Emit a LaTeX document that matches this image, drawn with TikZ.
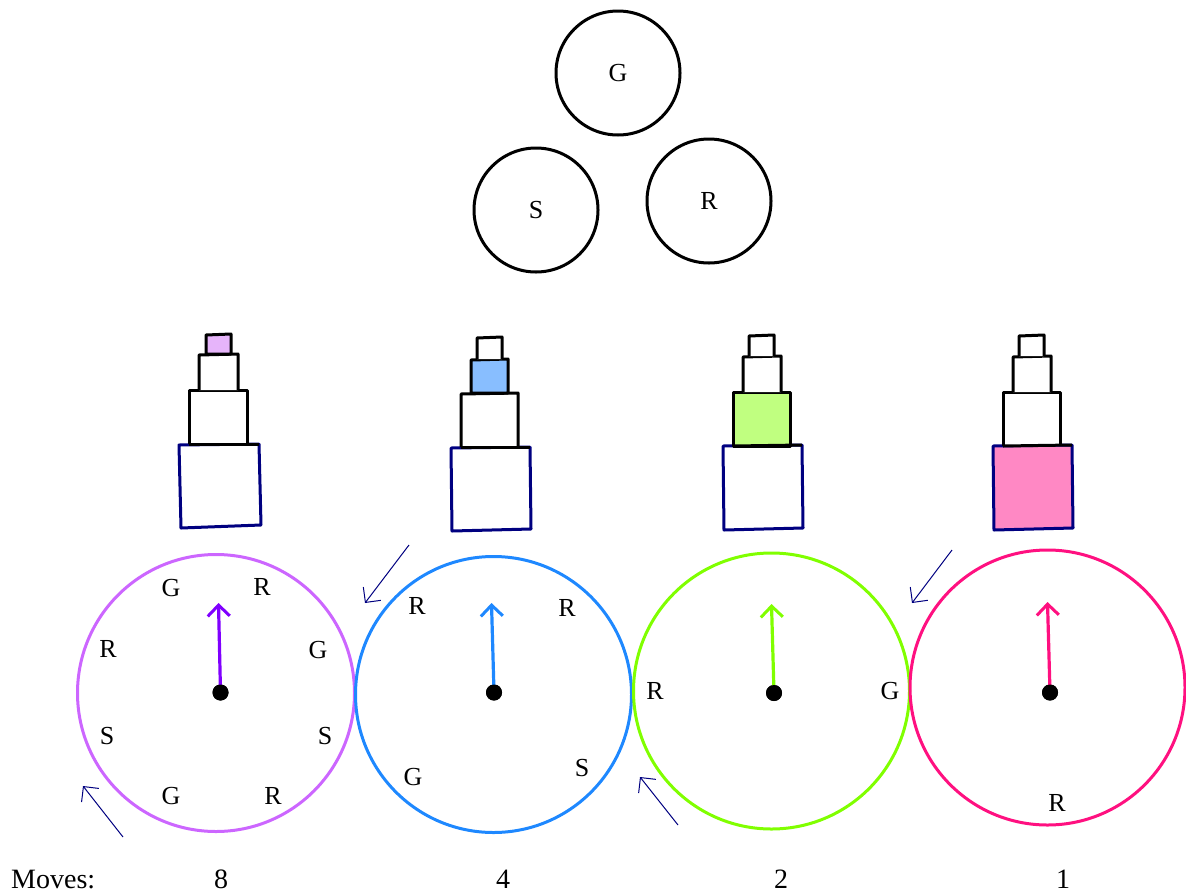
\documentclass[tikz,border=0pt]{standalone}
\usepackage{fontspec}
\setmainfont{Liberation Serif}
\usetikzlibrary{arrows.meta}

\definecolor{navy}{RGB}{0,0,128}
\definecolor{lilacring}{RGB}{204,102,255}
\definecolor{lilacfill}{RGB}{230,180,250}
\definecolor{violethand}{RGB}{128,0,255}
\definecolor{bluering}{RGB}{30,136,255}
\definecolor{bluefill}{RGB}{136,190,255}
\definecolor{greenring}{RGB}{128,255,0}
\definecolor{greenfill}{RGB}{192,255,128}
\definecolor{pinkring}{RGB}{255,16,128}
\definecolor{pinkfill}{RGB}{255,136,196}

\tikzset{
  lbl/.style={font=\fontsize{26}{30}\selectfont, inner sep=0pt},
  count/.style={font=\fontsize{28}{32}\selectfont, inner sep=0pt, anchor=base},
  topring/.style={circle, draw=black, line width=3pt, minimum size=124pt, inner sep=0pt, lbl},
  dial/.style={line width=3pt},
  hand/.style={line width=3.2pt, -{Straight Barb[length=11pt,width=22pt,line width=3pt]}},
  hub/.style={circle, fill=black, minimum size=16pt, inner sep=0pt},
  turn/.style={navy, line width=1pt, -{Straight Barb[length=11pt,width=22pt,line width=1pt]}},
  disc/.style={draw=black, line width=3pt, line join=round},
  base/.style={draw=navy, line width=3pt, line join=round},
}

\begin{document}
\begin{tikzpicture}[x=1pt,y=-1pt]
\useasboundingbox (0,0) rectangle (1186,892);

% three pegs
\node[topring] (pegG) at (618,73) {G};
\node[topring] (pegS) at (536,210) {S};
\node[topring] (pegR) at (709,201) {R};

% ---- stacks of discs ----
% stack 1
\draw[base, fill=white] (179,445) -- (259,444) -- (261,525) -- (181,528) -- cycle;
\draw[disc, fill=white] (189,444) -- (189,390) -- (247,390) -- (247,444);
\draw[disc, fill=white] (199,390) -- (199,355) -- (238,354) -- (238,390);
\draw[disc, fill=lilacfill] (206,354) -- (206,335) -- (231,334) -- (231,354) -- cycle;
\draw[disc] (189,444) -- (259,444);
% stack 2
\draw[base, fill=white] (451,448) -- (530,447) -- (531,529) -- (452,531) -- cycle;
\draw[disc, fill=white] (461,447) -- (461,394) -- (518,393) -- (518,447);
\draw[disc, fill=bluefill] (471,393) -- (471,360) -- (508,359) -- (508,393) -- cycle;
\draw[disc, fill=white] (477,359) -- (477,338) -- (502,337) -- (502,359);
\draw[disc] (461,447) -- (530,447);
% stack 3
\draw[base, fill=white] (723,446) -- (802,445) -- (803,528) -- (724,530) -- cycle;
\draw[disc, fill=greenfill] (733,446) -- (733,392) -- (790,392) -- (790,446) -- cycle;
\draw[disc, fill=white] (743,392) -- (743,357) -- (781,356) -- (781,392);
\draw[disc, fill=white] (749,356) -- (749,336) -- (774,335) -- (774,356);
\draw[disc] (733,446) -- (802,445);
% stack 4
\draw[base, fill=pinkfill] (993,446) -- (1072,445) -- (1073,528) -- (994,530) -- cycle;
\draw[disc, fill=white] (1003,446) -- (1003,392) -- (1060,392) -- (1060,446);
\draw[disc, fill=white] (1013,392) -- (1013,357) -- (1051,356) -- (1051,392);
\draw[disc, fill=white] (1019,356) -- (1019,336) -- (1044,335) -- (1044,356);
\draw[disc] (1003,446) -- (1072,445);

% ---- dials ----
\draw[dial, lilacring] (216,693) circle[radius=138.5];
\draw[dial, bluering] (493.5,694.5) circle[radius=138];
\draw[dial, greenring] (771.5,691) circle[radius=138];
\draw[dial, pinkring] (1047.5,687.5) circle[radius=137.5];

% hands
\coordinate (tip1) at (218.5,603);
\coordinate (tip2) at (491.5,603);
\coordinate (tip3) at (771.5,604);
\coordinate (tip4) at (1047.5,602);
\node[hub] (hub1) at (220.5,692.5) {};
\node[hub] (hub2) at (494,692.5) {};
\node[hub] (hub3) at (774,693) {};
\node[hub] (hub4) at (1050,692.5) {};
\draw[hand, violethand] (hub1.center) -- (tip1);
\draw[hand, bluering] (hub2.center) -- (tip2);
\draw[hand, greenring] (hub3.center) -- (tip3);
\draw[hand, pinkring] (hub4.center) -- (tip4);
\node[hub] at (hub1) {};
\node[hub] at (hub2) {};
\node[hub] at (hub3) {};
\node[hub] at (hub4) {};

% dial letters
\node[lbl] (d1a) at (171,588) {G};
\node[lbl] (d1b) at (262,587) {R};
\node[lbl] (d1c) at (108,649) {R};
\node[lbl] (d1d) at (318,650) {G};
\node[lbl] (d1e) at (107,736) {S};
\node[lbl] (d1f) at (325,736) {S};
\node[lbl] (d1g) at (171,796) {G};
\node[lbl] (d1h) at (273,796) {R};

\node[lbl] (d2a) at (417,606) {R};
\node[lbl] (d2b) at (567,608) {R};
\node[lbl] (d2c) at (413,777) {G};
\node[lbl] (d2d) at (582,768) {S};

\node[lbl] (d3a) at (655,691) {R};
\node[lbl] (d3b) at (890,691) {G};

\node[lbl] (d4a) at (1057,803) {R};

% turning directions
\coordinate (t1s) at (123,837); \coordinate (t1e) at (83,786);
\coordinate (t2s) at (409,545); \coordinate (t2e) at (365,603);
\coordinate (t3s) at (678,825); \coordinate (t3e) at (640,777);
\coordinate (t4s) at (952,550); \coordinate (t4e) at (912,603);
\draw[turn] (t1s) -- (t1e);
\draw[turn] (t2s) -- (t2e);
\draw[turn] (t3s) -- (t3e);
\draw[turn] (t4s) -- (t4e);

% move counts
\node[count, anchor=base west] (moves) at (11,888) {Moves:};
\node[count] (m8) at (221,888) {8};
\node[count] (m4) at (503,888) {4};
\node[count] (m2) at (781,888) {2};
\node[count] (m1) at (1063,888) {1};
\end{tikzpicture}
\end{document}
